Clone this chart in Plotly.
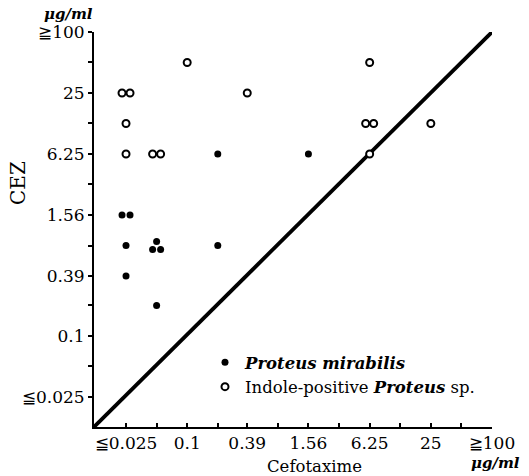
import math
from collections import defaultdict
import plotly.graph_objects as go

# MIC dilution steps (µg/ml) and tick labels
steps = [0.025, 0.05, 0.1, 0.2, 0.39, 0.78, 1.56, 3.13, 6.25, 12.5, 25, 50, 100]
tick_labels = ["≦0.025", "", "0.1", "", "0.39", "", "1.56", "", "6.25", "", "25", "", "≧100"]

# Proteus mirabilis (closed circles): Cefotaxime MIC vs CEZ MIC
pm_ctx = [0.025, 0.025, 0.025, 0.025, 0.05, 0.05, 0.05, 0.05, 0.2, 0.2, 1.56]
pm_cez = [1.56, 1.56, 0.78, 0.39, 0.78, 0.78, 0.78, 0.2, 0.78, 6.25, 6.25]

# Indole-positive Proteus sp. (open circles)
ip_ctx = [0.025, 0.025, 0.025, 0.025, 0.05, 0.05, 0.1, 0.39, 6.25, 6.25, 6.25, 6.25, 25]
ip_cez = [25, 25, 12.5, 6.25, 6.25, 6.25, 50, 25, 50, 12.5, 12.5, 6.25, 12.5]

x_lo, y_lo, hi = 0.0121, 0.0126, 100
W, H = 529, 476
ML, MR, MT, MB = 94, 37, 32, 49
PW, PH = W - ML - MR, H - MT - MB
px_per_dec_x = PW / (math.log10(hi) - math.log10(x_lo))
px_per_dec_y = PH / (math.log10(hi) - math.log10(y_lo))

# pixel offsets used to separate identical isolates
OFFS = {1: [(0, 0)], 2: [(-4, 0), (4, 0)], 3: [(0, -4), (-4, 4), (4, 4)]}


def spread(xs, ys):
    groups = defaultdict(list)
    for i, (x, y) in enumerate(zip(xs, ys)):
        groups[(x, y)].append(i)
    ox, oy = list(xs), list(ys)
    for (x, y), idx in groups.items():
        offs = OFFS.get(len(idx), [(0, 0)] * len(idx))
        for k, i in enumerate(idx):
            dx, dy = offs[k]
            ox[i] = x * 10 ** (dx / px_per_dec_x)
            oy[i] = y * 10 ** (-dy / px_per_dec_y)
    return ox, oy


pmx, pmy = spread(pm_ctx, pm_cez)
ipx, ipy = spread(ip_ctx, ip_cez)

font = "DejaVu Serif"
fig = go.Figure()
fig.add_trace(go.Scatter(x=[x_lo, hi], y=[y_lo, hi], mode="lines",
                         line=dict(color="black", width=3.8),
                         showlegend=False, hoverinfo="skip"))
fig.add_trace(go.Scatter(x=pmx, y=pmy, mode="markers",
                         name="<b><i>Proteus mirabilis</i></b>",
                         marker=dict(symbol="circle", size=7, color="black",
                                     line=dict(width=0))))
fig.add_trace(go.Scatter(x=ipx, y=ipy, mode="markers",
                         name="Indole-positive <i><b>Proteus</b></i> sp.",
                         marker=dict(symbol="circle", size=7, color="white",
                                     line=dict(color="black", width=2))))

axis_common = dict(type="log",
                   tickvals=steps, ticktext=tick_labels,
                   showgrid=False, zeroline=False,
                   showline=True, linecolor="black", linewidth=2,
                   tickcolor="black", ticklen=4, tickwidth=1.5,
                   tickfont=dict(family=font, size=17, color="black"))
fig.update_xaxes(**axis_common, ticks="inside",
                 range=[math.log10(x_lo), math.log10(hi)])
fig.update_yaxes(**axis_common, ticks="outside",
                 range=[math.log10(y_lo), math.log10(hi)])

annots = [
    dict(text="Cefotaxime", x=314, y=466, size=16.5, angle=0),
    dict(text="CEZ", x=18, y=183, size=20, angle=-90),
    dict(text="<b><i>μg/ml</i></b>", x=68, y=14, size=15, angle=0),
    dict(text="<b><i>μg/ml</i></b>", x=495, y=463, size=15, angle=0),
]
for a in annots:
    fig.add_annotation(text=a["text"],
                       x=(a["x"] - ML) / PW, y=(H - MB - a["y"]) / PH,
                       xref="paper", yref="paper", showarrow=False,
                       xanchor="center", yanchor="middle",
                       textangle=a["angle"],
                       font=dict(family=font, color="black", size=a["size"]))

fig.update_layout(
    width=W, height=H,
    margin=dict(l=ML, r=MR, t=MT, b=MB),
    paper_bgcolor="white", plot_bgcolor="white",
    showlegend=True,
    legend=dict(x=(205 - ML) / PW, y=(H - MB - 345) / PH,
                xanchor="left", yanchor="top", bgcolor="rgba(0,0,0,0)",
                font=dict(family=font, size=16.5, color="black"),
                tracegroupgap=0, itemwidth=30),
    font=dict(family=font, color="black"),
)

fig.write_html("out.html")
